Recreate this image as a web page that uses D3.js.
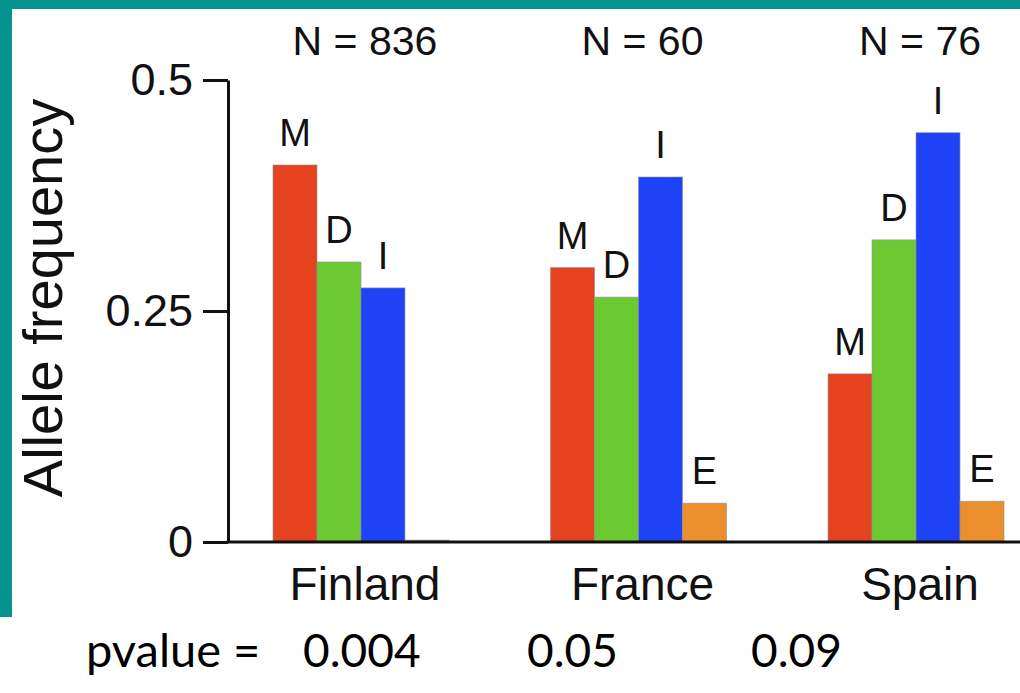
<!DOCTYPE html>
<html>
<head>
<meta charset="utf-8">
<script src="https://cdn.jsdelivr.net/npm/d3@7"></script>
<style>
  html, body { margin: 0; padding: 0; background: #fff; }
  svg { display: block; }
</style>
</head>
<body>
<svg id="chart" width="1020" height="693"></svg>
<script>
// Allele frequencies per population
const populations = ["Finland", "France", "Spain"];
const alleles = ["M", "D", "I", "E"];
const sampleSizes = [836, 60, 76];
const freqM = [0.408, 0.297, 0.182];
const freqD = [0.303, 0.265, 0.327];
const freqI = [0.275, 0.395, 0.443];
const freqE = [0.002, 0.042, 0.044];
const pvalues = ["0.004", "0.05", "0.09"];
const yTicks = [0, 0.25, 0.5];

const alleleColors = { M: "#e5431f", D: "#6cc932", I: "#1e43f7", E: "#ea8f2c" };
const seriesByAllele = { M: freqM, D: freqD, I: freqI, E: freqE };

const W = 1020, H = 693;
const svg = d3.select("#chart");
svg.append("rect").attr("width", W).attr("height", H).attr("fill", "#fff");

// frame band
const teal = "#03948f";
svg.append("rect").attr("x", 0).attr("y", 0).attr("width", W).attr("height", 9).attr("fill", teal);
svg.append("rect").attr("x", 0).attr("y", 0).attr("width", 12).attr("height", 617).attr("fill", teal);

const axisX = 228;
const y = d3.scaleLinear().domain([0, 0.5]).range([542, 80]);
const x0 = d3.scaleBand().domain(populations).range([273, 1004]).paddingInner(0.366).paddingOuter(0);
const x1 = d3.scaleBand().domain(alleles).range([0, x0.bandwidth()]).padding(0);

const font = "'Liberation Sans', Arial, Helvetica, sans-serif";

// bars
const rows = populations.map((p, i) => ({
  population: p,
  n: sampleSizes[i],
  values: alleles.map(a => ({ allele: a, value: seriesByAllele[a][i] }))
}));

const g = svg.selectAll("g.pop").data(rows).join("g")
  .attr("class", "pop")
  .attr("transform", d => `translate(${x0(d.population)},0)`);

g.selectAll("rect.bar").data(d => d.values).join("rect")
  .attr("class", "bar")
  .attr("x", d => x1(d.allele))
  .attr("y", d => y(d.value))
  .attr("width", x1.bandwidth())
  .attr("height", d => y(0) - y(d.value))
  .attr("fill", d => d.value < 0.01 ? "#9a9a9a" : alleleColors[d.allele])
  .attr("stroke", "#8f8f8f")
  .attr("stroke-opacity", 0.6)
  .attr("stroke-width", 1);

g.selectAll("text.allele").data(d => d.values.filter(v => v.value >= 0.01)).join("text")
  .attr("class", "allele")
  .attr("x", d => x1(d.allele) + x1.bandwidth() / 2)
  .attr("y", d => y(d.value) - 19)
  .attr("text-anchor", "middle")
  .attr("font-family", font)
  .attr("font-size", 38)
  .attr("fill", "#111")
  .text(d => d.allele);

// sample sizes above groups
svg.selectAll("text.n").data(rows).join("text")
  .attr("class", "n")
  .attr("x", d => x0(d.population) + x0.bandwidth() / 2 + 4)
  .attr("y", 55)
  .attr("text-anchor", "middle")
  .attr("font-family", font)
  .attr("font-size", 41)
  .attr("fill", "#111")
  .text(d => `N = ${d.n}`);

// population names below the axis
svg.selectAll("text.pop-label").data(rows).join("text")
  .attr("class", "pop-label")
  .attr("x", d => x0(d.population) + x0.bandwidth() / 2 + 4)
  .attr("y", 600)
  .attr("text-anchor", "middle")
  .attr("font-family", font)
  .attr("font-size", 46)
  .attr("fill", "#111")
  .text(d => d.population);

// y axis
const yAxis = d3.axisLeft(y).tickValues(yTicks).tickSize(25).tickSizeOuter(0).tickPadding(10)
  .tickFormat(d => String(d));
const ya = svg.append("g").attr("transform", `translate(${axisX},0)`).call(yAxis);
ya.select(".domain").attr("stroke", "#111").attr("stroke-width", 3);
ya.selectAll(".tick line").attr("stroke", "#111").attr("stroke-width", 3);
ya.selectAll(".tick text").attr("font-family", font).attr("font-size", 45).attr("fill", "#111");

// baseline
svg.append("line")
  .attr("x1", axisX - 1.5).attr("x2", W)
  .attr("y1", y(0)).attr("y2", y(0))
  .attr("stroke", "#111").attr("stroke-width", 3);

// axis title
svg.append("text")
  .attr("transform", `translate(62, ${(y(0) + y(0.5)) / 2 - 13}) rotate(-90)`)
  .attr("text-anchor", "middle")
  .attr("font-family", font)
  .attr("font-size", 56)
  .attr("fill", "#111")
  .text("Allele frequency");

// p-value row
const pfont = "Lato, 'Open Sans', sans-serif";
svg.append("text")
  .attr("x", 86).attr("y", 667)
  .attr("font-family", pfont).attr("font-size", 47).attr("fill", "#000")
  .text("pvalue =");
const px = d3.scalePoint().domain(populations).range([303, 751]);
svg.selectAll("text.pval").data(populations).join("text")
  .attr("class", "pval")
  .attr("x", d => px(d))
  .attr("y", 667)
  .attr("font-family", pfont).attr("font-size", 46).attr("fill", "#000")
  .text((d, i) => pvalues[i]);
</script>
</body>
</html>
